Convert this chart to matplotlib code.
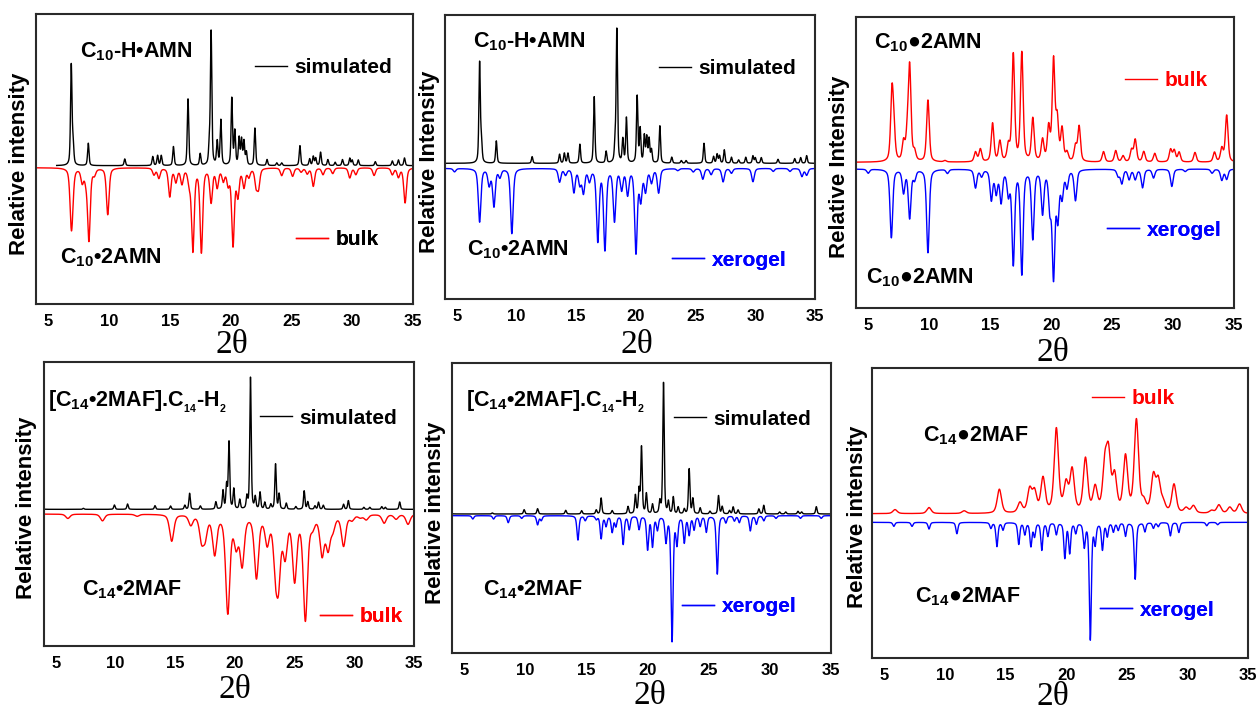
import numpy as np
import matplotlib
matplotlib.use('Agg')
import matplotlib.pyplot as plt

W_PX, H_PX = 1260, 711
DPI = 100

plt.rcParams['font.family'] = ['Liberation Sans', 'DejaVu Sans']
plt.rcParams['font.weight'] = 'bold'
plt.rcParams['mathtext.fontset'] = 'custom'
plt.rcParams['mathtext.rm'] = 'Liberation Sans:bold'
plt.rcParams['mathtext.it'] = 'Liberation Sans:bold'
plt.rcParams['mathtext.bf'] = 'Liberation Sans:bold'
plt.rcParams['mathtext.default'] = 'bf'

RED = '#ff0000'
BLUE = '#0000ff'
TICKS = [5, 10, 15, 20, 25, 30, 35]

# ---- peak lists (2theta, relative height) ----
sim_c10_pos = [6.9, 7.05, 8.3, 11.3, 13.6, 14.0, 14.3, 15.3, 16.5, 17.5, 18.25, 18.4, 18.9,
               19.2, 20.1, 20.35, 20.7, 20.9, 21.1, 21.3, 22.0, 23.0, 23.8, 24.2, 25.7,
               26.5, 26.8, 27.0, 27.4, 28.0, 28.6, 29.2, 29.8, 30.0, 30.5, 31.9, 33.3,
               33.8, 34.3]
sim_c10_h = [300, 60, 67, 20, 27, 30, 30, 57, 200, 35, 50, 400, 70, 135, 200, 100, 80, 75,
             70, 38, 112, 18, 8, 8, 60, 20, 27, 22, 40, 18, 10, 18, 22, 16, 17, 12, 14, 17, 23]

bulk_c10_pos = [6.9, 7.0, 7.8, 8.1, 8.35, 8.8, 9.9, 13.7, 14.1, 15.0, 15.5, 16.0, 16.6,
                16.9, 17.6, 18.4, 18.9, 19.4, 19.8, 20.2, 20.6, 21.1, 21.5, 22.1, 22.3,
                24.2, 25.1, 25.8, 26.3, 26.8, 27.6, 28.4, 29.8, 30.3, 31.8, 33.3, 33.8, 34.35]
bulk_c10_h = [150, 55, 40, 27, 215, 17, 140, 20, 30, 85, 40, 45, 40, 245, 250, 100, 55, 35,
              45, 230, 80, 55, 25, 50, 55, 23, 25, 12, 17, 55, 20, 17, 30, 20, 23, 20, 27, 105]

xero_c10_pos = [4.8, 6.9, 7.7, 8.1, 8.6, 9.6, 13.6, 14.1, 14.8, 15.3, 15.6, 16.1, 16.8,
                17.4, 18.2, 18.8, 19.3, 20.0, 20.4, 20.8, 21.3, 21.9, 23.5, 24.8, 25.6,
                26.3, 27.3, 28.0, 29.8, 31.5, 32.9, 33.9, 34.3]
xero_c10_h = [10, 160, 48, 112, 24, 195, 40, 18, 70, 45, 70, 35, 215, 240, 155, 60, 75, 250,
              90, 65, 40, 72, 6, 10, 32, 18, 40, 14, 40, 9, 9, 24, 20]

bulk_c10b_pos = [6.95, 7.1, 7.9, 8.2, 8.4, 8.8, 9.9, 11.3, 13.8, 14.2, 15.2, 15.8, 16.5,
                 16.9, 17.6, 18.5, 19.3, 19.8, 20.2, 20.5, 20.9, 21.3, 22.0, 22.3, 24.3,
                 25.3, 25.9, 26.6, 26.9, 27.6, 28.5, 29.8, 30.1, 30.5, 31.8, 33.4, 34.0, 34.4]
bulk_c10b_h = [200, 80, 55, 65, 280, 26, 185, 4, 29, 38, 115, 60, 45, 320, 325, 128, 63, 98,
               300, 120, 95, 25, 45, 105, 31, 34, 18, 35, 66, 31, 26, 37, 34, 29, 29, 29, 40, 140]

xero_c10b_pos = [5.0, 6.9, 7.9, 8.4, 8.8, 9.9, 11.5, 13.8, 14.3, 15.1, 15.5, 15.9, 16.5,
                 16.9, 17.6, 18.5, 19.3, 19.9, 20.2, 20.55, 20.9, 21.3, 22.0, 25.5, 25.8,
                 26.4, 26.9, 27.5, 28.4, 29.9, 31.0, 33.2, 34.0, 34.4]
xero_c10b_h = [12, 205, 68, 145, 28, 250, 12, 55, 20, 90, 68, 95, 70, 280, 310, 205, 128,
               108, 315, 140, 78, 50, 92, 20, 42, 30, 30, 55, 26, 52, 7, 12, 33, 30]

sim_c14_pos = [3.8, 7.3, 9.9, 11.0, 13.3, 14.6, 15.8, 16.2, 17.1, 18.4, 19.0, 19.3, 19.5,
               19.9, 20.4, 21.0, 21.3, 21.7, 22.1, 22.5, 23.0, 23.4, 23.7, 24.3, 25.1, 25.8,
               26.1, 26.7, 27.0, 27.4, 29.1, 29.5, 30.8, 31.3, 32.3, 32.6, 33.8]
sim_c14_h = [14, 3, 13, 16, 11, 10, 12, 48, 10, 22, 55, 70, 200, 60, 28, 35, 395, 35, 50, 20,
             14, 135, 45, 18, 8, 55, 22, 10, 21, 12, 15, 26, 6, 6, 8, 6, 22]

bulk_c14_pos = [6.0, 8.9, 11.8, 14.7, 16.3, 17.2, 17.5, 18.3, 19.4, 20.1, 20.6, 21.8, 22.7,
                23.4, 23.65, 24.2, 25.0, 25.9, 26.5, 27.3, 27.8, 28.2, 29.1, 29.8, 30.5,
                31.0, 32.5, 33.5, 34.5]
bulk_c14_h = [13, 20, 6, 80, 30, 70, 60, 115, 290, 85, 145, 185, 80, 140, 170, 115, 190, 310,
              28, 115, 95, 38, 92, 15, 8, 15, 26, 14, 30]

xero_c14_pos = [5.7, 7.4, 8.6, 9.7, 11.0, 11.3, 14.3, 14.9, 15.8, 16.2, 16.6, 17.1, 17.4,
                18.0, 18.5, 19.3, 20.0, 20.4, 20.8, 21.5, 22.0, 22.4, 23.0, 23.4, 23.8, 24.3,
                24.8, 25.7, 26.4, 27.1, 27.5, 28.4, 28.9, 29.5, 30.5, 32.5, 34.2]
xero_c14_h = [10, 10, 21, 8, 27, 14, 73, 14, 10, 68, 30, 48, 30, 85, 40, 40, 100, 90, 40, 75,
              375, 80, 78, 55, 40, 30, 48, 175, 20, 15, 20, 45, 25, 15, 8, 8, 8]

bulk_c14b_pos = [5.9, 8.7, 11.6, 14.5, 16.2, 17.0, 17.4, 18.1, 19.2, 20.0, 20.5, 21.6, 22.4,
                 23.2, 23.5, 24.0, 24.9, 25.8, 26.4, 27.2, 27.6, 28.0, 28.9, 29.9, 30.5,
                 32.0, 32.6, 33.5, 34.3]
bulk_c14b_h = [12, 18, 8, 72, 30, 68, 60, 102, 250, 82, 125, 160, 72, 130, 160, 105, 165, 275,
               28, 105, 90, 28, 85, 15, 22, 8, 25, 18, 28]

xero_c14b_pos = [5.8, 7.3, 8.7, 11.0, 13.8, 14.3, 14.8, 16.1, 16.6, 17.1, 17.4, 18.0, 18.5,
                 19.2, 19.9, 20.3, 20.8, 21.5, 22.0, 22.4, 23.0, 23.4, 23.9, 24.3, 24.9,
                 25.7, 26.5, 27.2, 27.6, 28.6, 29.3, 31.6, 32.5]
xero_c14b_h = [12, 12, 20, 34, 17, 72, 22, 65, 35, 70, 40, 82, 40, 35, 105, 90, 30, 70, 350,
               60, 80, 40, 27, 22, 40, 170, 27, 17, 12, 40, 30, 10, 7]

C10H = 'C$_{10}$-H\u2022AMN'
C10_SMALL = 'C$_{10}$\u20222AMN'
C10_BIG = 'C$_{10}$\u25cf2AMN'
C14_COMPLEX = '[C$_{14}$\u20222MAF].C$_{{}_{14}}$-H$_{{}_{2}}$'
C14_SMALL = 'C$_{14}$\u20222MAF'
C14_BIG = 'C$_{14}$\u25cf2MAF'


def profile(x, pos, heights, fwhm, eta=0.5):
    y = np.zeros_like(x)
    for p, h in zip(pos, heights):
        d = (x - p) / fwhm
        y += h * (eta / (1 + 4 * d ** 2) + (1 - eta) * np.exp(-4 * np.log(2) * d ** 2))
    return y


def to_axes(box, x, y):
    left, top, right, bottom = box
    return (x - left) / (right - left), (bottom - y) / (bottom - top)


def add_key(ax, box, line, label, text_color, xy):
    ax_x, ax_y = to_axes(box, *xy)
    leg = ax.legend([line], [label], loc='center left', bbox_to_anchor=(ax_x, ax_y),
                    frameon=False, borderpad=0, borderaxespad=0, handlelength=1.55,
                    handletextpad=0.35, prop={'size': 15, 'weight': 'bold'},
                    labelcolor=text_color)
    ax.add_artist(leg)


def draw_panel(fig, p):
    left, top, right, bottom = p['box']
    ax = fig.add_axes([left / W_PX, 1 - bottom / H_PX, (right - left) / W_PX,
                       (bottom - top) / H_PX])
    x_up = np.linspace(p.get('x_start', 4.0), 35, 3100)
    x_dn = np.linspace(4.0, 35, 3100)
    up = profile(x_up, *p['up'])
    dn = p['offset'] - profile(x_dn, *p['down'])
    line_up, = ax.plot(x_up, up, color=p['up_color'], lw=1.0)
    line_dn, = ax.plot(x_dn, dn, color=p['down_color'], lw=1.0)

    ax.set_xlim(4, 35)
    ax.set_ylim(*p['ylim'])
    ax.set_xticks(TICKS)
    ax.set_yticks([])
    ax.tick_params(axis='x', length=0, pad=7, labelsize=12)
    for lab in ax.get_xticklabels():
        lab.set_fontweight('bold')
    for s in ax.spines.values():
        s.set_linewidth(1.5)
        s.set_color('#2a2a2a')

    ax.set_xlabel('2\u03b8', family='Liberation Serif', fontweight='normal', fontsize=24)
    ax.xaxis.set_label_coords(*to_axes(p['box'], *p['xlabel_at']))
    ax.xaxis.label.set_va('center')
    ax.set_ylabel(p['ylabel'], fontsize=16, fontweight='bold')
    ax.yaxis.set_label_coords(*to_axes(p['box'], *p['ylabel_at']))
    ax.yaxis.label.set_va('center')

    for txt, xy in p['texts']:
        tx, ty = to_axes(p['box'], *xy)
        ax.text(tx, ty, txt, transform=ax.transAxes, ha='left', va='center',
                fontsize=15.5, fontweight='bold')

    add_key(ax, p['box'], line_up, p['up_label'], p['up_text_color'], p['up_key'])
    add_key(ax, p['box'], line_dn, p['down_label'], p['down_text_color'], p['down_key'])
    return ax


def main():
    panels = [
        dict(box=(36, 14, 413, 304), ylim=(-415, 455), offset=-6, x_start=5.7,
             up=(sim_c10_pos, sim_c10_h, 0.14), down=(bulk_c10_pos, bulk_c10_h, 0.26),
             up_color='black', down_color=RED,
             up_label='simulated', down_label='bulk',
             up_text_color='black', down_text_color='black',
             up_key=(255, 68), down_key=(296, 240),
             texts=[(C10H, (80, 52)), (C10_SMALL, (60, 258))],
             ylabel='Relative intensity', ylabel_at=(20, 164), xlabel_at=(232, 345)),
        dict(box=(445, 15, 815, 299), ylim=(-407, 445), offset=-15,
             up=(sim_c10_pos, sim_c10_h, 0.14), down=(xero_c10_pos, xero_c10_h, 0.26),
             up_color='black', down_color=BLUE,
             up_label='simulated', down_label='xerogel',
             up_text_color='black', down_text_color=BLUE,
             up_key=(659, 69), down_key=(672, 260),
             texts=[(C10H, (473, 42)), (C10_SMALL, (467, 250))],
             ylabel='Relative Intensity', ylabel_at=(430, 162), xlabel_at=(637, 345)),
        dict(box=(856, 17, 1234, 308), ylim=(-437, 436), offset=-20,
             up=(bulk_c10b_pos, bulk_c10b_h, 0.26), down=(xero_c10b_pos, xero_c10b_h, 0.26),
             up_color=RED, down_color=BLUE,
             up_label='bulk', down_label='xerogel',
             up_text_color=RED, down_text_color=BLUE,
             up_key=(1125, 81), down_key=(1107, 230),
             texts=[(C10_BIG, (874, 43)), (C10_BIG, (866, 278))],
             ylabel='Relative Intensity', ylabel_at=(840, 167), xlabel_at=(1053, 353)),
        dict(box=(44, 362, 414, 646), ylim=(-409, 441), offset=-14,
             up=(sim_c14_pos, sim_c14_h, 0.14), down=(bulk_c14_pos, bulk_c14_h, 0.42),
             up_color='black', down_color=RED,
             up_label='simulated', down_label='bulk',
             up_text_color='black', down_text_color=RED,
             up_key=(260, 418), down_key=(320, 617),
             texts=[(C14_COMPLEX, (48, 402)), (C14_SMALL, (82, 590))],
             ylabel='Relative intensity', ylabel_at=(27, 508), xlabel_at=(235, 690)),
        dict(box=(452, 363, 831, 653), ylim=(-418, 454), offset=-5,
             up=(sim_c14_pos, sim_c14_h, 0.14), down=(xero_c14_pos, xero_c14_h, 0.2),
             up_color='black', down_color=BLUE,
             up_label='simulated', down_label='xerogel',
             up_text_color='black', down_text_color=BLUE,
             up_key=(674, 419), down_key=(682, 607),
             texts=[(C14_COMPLEX, (466, 402)), (C14_SMALL, (483, 590))],
             ylabel='Relative intensity', ylabel_at=(435, 513), xlabel_at=(650, 696)),
        dict(box=(872, 368, 1248, 658), ylim=(-433, 437), offset=-26,
             up=(bulk_c14b_pos, bulk_c14b_h, 0.42), down=(xero_c14b_pos, xero_c14b_h, 0.2),
             up_color=RED, down_color=BLUE,
             up_label='bulk', down_label='xerogel',
             up_text_color=RED, down_text_color=BLUE,
             up_key=(1092, 399), down_key=(1100, 610),
             texts=[(C14_BIG, (923, 436)), (C14_BIG, (915, 597))],
             ylabel='Relative intensity', ylabel_at=(857, 517), xlabel_at=(1053, 697)),
    ]

    fig = plt.figure(figsize=(W_PX / DPI, H_PX / DPI), dpi=DPI)
    for p in panels:
        draw_panel(fig, p)
    fig.savefig('out.png', dpi=DPI)


if __name__ == '__main__':
    main()
